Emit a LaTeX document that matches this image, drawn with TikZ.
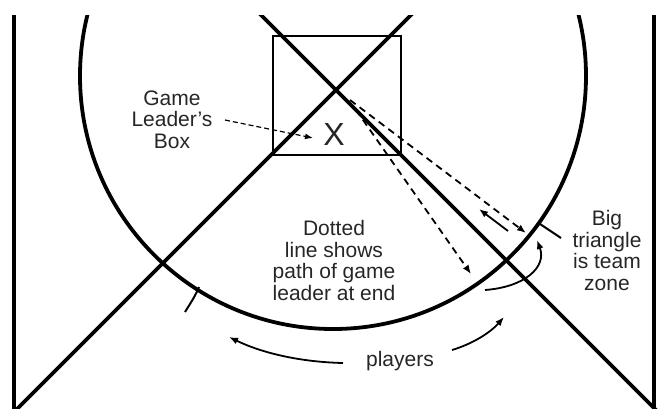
\documentclass[tikz,border=0pt]{standalone}
\usepackage{fontspec}
\setmainfont{Liberation Sans}
\usetikzlibrary{arrows.meta}
\begin{document}
\begin{tikzpicture}[x=1pt,y=-1pt,
  heavy/.style={line width=3.8pt},
  boxline/.style={line width=1.4pt},
  dasharrow/.style={line width=1.8pt, dash pattern=on 7pt off 5pt, -{Latex[length=9pt,width=7pt]}},
  thindash/.style={line width=1.2pt, dash pattern=on 5pt off 3pt, -{Latex[length=8pt,width=6pt]}},
  solidarrow/.style={line width=1.8pt, -{Latex[length=9pt,width=7pt]}},
  tick/.style={line width=2pt},
  lbl/.style={font=\fontsize{21}{21.5}\selectfont, align=center, inner sep=0pt, text=black!85}]
\useasboundingbox (0,0) rectangle (659,408);
\begin{scope}
  \clip (0,15) rectangle (659,408);
  % court side lines
  \coordinate (lt) at (14,10);  \coordinate (lb) at (14,410);
  \coordinate (rt) at (654,10); \coordinate (rb) at (654,410);
  \draw[heavy] (lt) -- (lb);
  \draw[heavy] (rt) -- (rb);
  % big circle
  \coordinate (c) at (333,76);
  \draw[heavy] (c) circle [radius=253pt];
  % the X lines
  \coordinate (a1) at (251,5);  \coordinate (a2) at (660,414);
  \coordinate (b1) at (421,5);  \coordinate (b2) at (8,418);
  \draw[heavy] (a1) -- (a2);
  \draw[heavy] (b1) -- (b2);
\end{scope}
% game leader's box
\coordinate (bx1) at (273,36); \coordinate (bx2) at (401,155);
\draw[boxline] (bx1) rectangle (bx2);
\node[font=\fontsize{32}{32}\selectfont, inner sep=0pt, text=black!85] (x) at (334,134) {X};
% labels (base anchor = baseline of the last line)
\node[lbl, anchor=base] (game) at (172,148) {Game\\Leader's\\Box};
\node[lbl, anchor=base] (dotted) at (334,300) {Dotted\\line shows\\path of game\\leader at end};
\node[lbl, anchor=base] (big) at (607,290) {Big\\triangle\\is team\\zone};
\node[lbl, anchor=base] (players) at (400,366) {players};
% arrow to the X
\coordinate (g1) at (225,120); \coordinate (g2) at (313,138);
\draw[thindash] (g1) -- (g2);
% dashed paths of the game leader
\coordinate (d1s) at (350,100); \coordinate (d1e) at (526,233);
\coordinate (d2s) at (356,110); \coordinate (d2e) at (471,274);
\draw[dasharrow] (d1s) -- (d1e);
\draw[dasharrow] (d2s) -- (d2e);
% short solid return arrow
\coordinate (s1) at (508,231); \coordinate (s2) at (479,209);
\draw[solidarrow] (s1) -- (s2);
% curved arrow near right crossing
\coordinate (r1) at (485,290); \coordinate (r2) at (537,240);
\draw[solidarrow] (r1) .. controls (525,287) and (547,267) .. (r2);
% ticks on the circle
\coordinate (t1) at (199,287); \coordinate (t2) at (185,312);
\draw[tick] (t1) .. controls (195,296) .. (t2);
\coordinate (t3) at (540,224); \coordinate (t4) at (561,238);
\draw[tick] (t3) -- (t4);
% players arrows
\coordinate (p1) at (343,363); \coordinate (p2) at (229,337);
\draw[solidarrow] (p1) .. controls (300,362) and (262,353) .. (p2);
\coordinate (p3) at (452,350); \coordinate (p4) at (504,317);
\draw[solidarrow] (p3) .. controls (472,344) and (490,333) .. (p4);
\end{tikzpicture}
\end{document}
